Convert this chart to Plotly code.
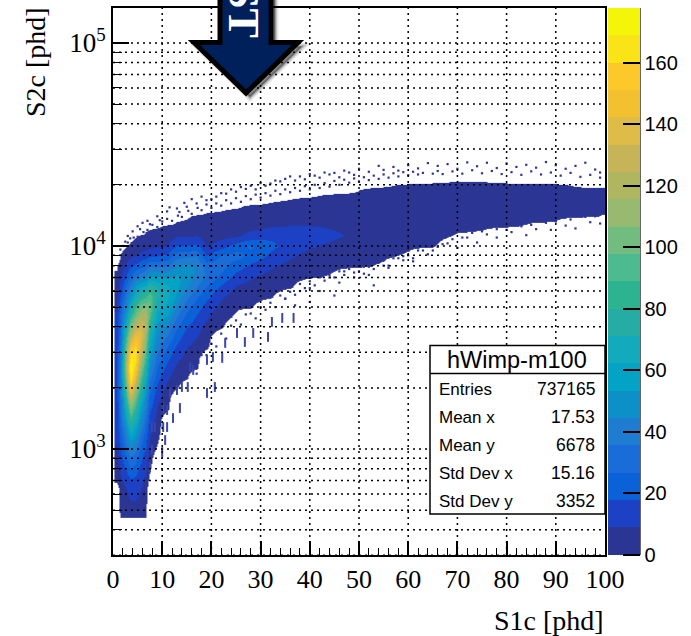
import plotly.graph_objects as go

W, H = 691, 636
L, R, T, B = 113, 605, 8, 555

S1_centres = [0.7, 1.5, 2.5, 3.5, 4.5, 5.5, 6.5, 7.5, 9, 11, 13, 15, 17, 19, 22, 25, 28, 32, 36, 40, 45, 50,
              55, 60, 65, 70, 75, 80, 85, 90, 95, 99.7]
S2_centres = [470, 500, 560, 630, 710, 800, 890, 1000, 1120, 1260, 1410, 1580, 1780, 2000, 2240, 2510, 2820, 3160,
              3550, 3980, 4470, 5010, 5620, 6310, 7080, 7940, 8910, 10000, 11200, 12600, 14100, 15800, 17800,
              20000, 22400]

# (index of first listed S2 row, counts going upward) for each S1 column.
# Small negative numbers at either end place the empty-bin edge between two rows.
column_counts = [
    (4, [3, 5, 6, 8, 10, 10, 11, 12, 12, 13, 13, 13, 13, 12, 12, 11, 10, 8, 6, 4, 1.5, -1]),
    (0, [2, 3, 4, 5, 8, 10, 14, 18, 22, 26, 30, 33, 36, 40, 42, 42, 40, 36, 32, 30, 28, 24, 18, 13, 8, 4, 1, -3]),
    (0, [4, 5, 6, 8, 12, 18, 24, 30, 38, 46, 56, 66, 78, 90, 100, 110, 105, 95, 80, 66, 52, 42, 34, 26, 18, 10, 4, -1]),
    (0, [5, 7, 9, 12, 18, 26, 34, 44, 56, 70, 86, 104, 128, 152, 170, 176, 170, 150, 125, 105, 85, 68, 52, 40, 28, 16, 8, 2, -3]),
    (0, [5, 7, 9, 12, 16, 22, 30, 38, 48, 58, 70, 84, 100, 118, 138, 155, 164, 162, 146, 125, 105, 88, 70, 54, 36, 20, 9, 4, -1]),
    (0, [3, 5, 7, 9, 12, 15, 20, 26, 32, 40, 48, 58, 70, 82, 96, 110, 124, 134, 140, 134, 120, 102, 82, 62, 42, 24, 12, 4, 1, -8]),
    (0, [1, 2, 3, 5, 7, 10, 13, 17, 21, 26, 32, 40, 48, 58, 68, 78, 90, 102, 114, 124, 122, 106, 88, 66, 46, 28, 14, 5, 1, -1.5]),
    (4, [-1.5, 1, 4, 6, 9, 12, 16, 20, 25, 31, 38, 46, 54, 62, 70, 80, 92, 102, 96, 80, 55, 36, 16, 6, 1.5, -1]),
    (7, [-1.5, 1, 3, 5, 8, 11, 15, 20, 26, 32, 38, 44, 50, 58, 66, 74, 70, 54, 34, 18, 8, 4, -1]),
    (11, [1, 3, 6, 10, 14, 20, 26, 34, 42, 52, 60, 64, 64, 52, 34, 20, 9, 4, 1, -8]),
    (13, [1, 4, 7, 11, 16, 22, 28, 36, 44, 52, 56, 56, 46, 32, 18, 8, 1, -1.5]),
    (14, [1, 3, 6, 9, 13, 18, 24, 30, 38, 46, 50, 46, 34, 18, 8, 2, -1]),
    (15, [1, 3, 6, 9, 13, 17, 22, 28, 36, 42, 44, 36, 20, 9, 4, 1, -8]),
    (17, [1, 3, 6, 10, 14, 20, 26, 35, 32, 18, 8, 4, 2, 1, -2]),
    (19, [1, 3, 6, 10, 16, 24, 30, 28, 14, 6, 3, 1, -1]),
    (20, [-1.5, 1, 4, 8, 14, 22, 30, 22, 8, 5, 3, -1]),
    (21, [1, 3, 6, 10, 16, 24, 28, 12, 6, 3, 1, -8]),
    (22, [1, 3, 6, 10, 16, 20, 16, 8, 4, 1, -2]),
    (23, [1, 3, 6, 10, 14, 16, 9, 4, 1.5, -1]),
    (24, [1, 3, 6, 10, 13, 9, 5, 4, -1]),
    (24, [-1, 1, 3, 7, 10, 8, 5, 3, 1, -8]),
    (25, [1, 3, 5, 7, 8, 7, 4, 1, -1]),
    (25, [-1, 1, 3, 6, 8, 7, 5, 4, -1]),
    (26, [-1, 1, 3, 6, 7, 6, 3, 1, -8]),
    (27, [1, 3, 5, 6, 5, 3, 1, -4]),
    (28, [-1, 2.3, 4, 5, 5, 1, -1.5]),
    (28, [-1.5, 1, 3, 4, 4, 1, -2]),
    (29, [1, 3, 3, 3, 1, -4]),
    (29, [-1, 2.3, 3, 3, 1, -8]),
    (29, [-1, 1, 2, 3, 1, -8]),
    (30, [1, 2, 4, -1]),
    (30, [-0.25, 1, 2.5, -1]),
]
EMPTY = -8

# isolated low-count bins outside the solid band, above and below it
speckle_S1 = [1.5, 2, 2.5, 3, 3.5, 4, 5, 5.5, 6, 7, 7.5, 9, 9.5, 11, 11.5, 13, 13.5, 14.5, 15, 16, 17, 18, 19, 20,
              21, 22, 23, 24, 25, 26, 27, 28, 29, 30, 31, 32, 33, 34, 35, 36, 37, 38, 39, 40, 41, 42, 43, 44, 45,
              46, 47, 48, 49, 50, 52, 54, 55, 57, 58, 60, 62, 64, 66, 68, 70, 72, 74, 76, 78, 80, 82, 84, 86, 88,
              90, 92, 94, 96, 98, 99,
              35, 37, 38, 40, 42, 44, 46, 47, 49, 51, 52, 54, 56, 57, 59, 61, 62, 64, 66, 68, 70, 72, 74, 76, 78,
              81, 84, 86, 89, 92, 94, 97, 99, 53, 45, 40]
speckle_S2 = [9600, 10000, 10500, 11200, 10900, 11800, 12500, 12100, 13000, 13300, 12800, 14000, 13400, 14800, 15500,
              15300, 14700, 16300, 15600, 17000, 16200, 17500, 16800, 17000, 17500, 18200, 18100, 19000, 18500, 19500,
              19100, 19800, 19000, 20400, 19800, 20300, 21000, 20800, 21400, 22000, 21000, 22000, 21300, 22600, 22200,
              21700, 23000, 22500, 22900, 21800, 23500, 23000, 22400, 24000, 23200, 24800, 23700, 24500, 23500, 25000,
              24100, 25600, 24800, 25300, 24000, 25800, 24700, 25700, 24200, 25500, 24500, 25100, 24300, 25900, 25000,
              24000, 24800, 25700, 23800, 23000,
              5500, 5100, 6000, 6200, 6000, 7000, 6600, 7500, 7000, 7900, 7200, 8300, 8000, 8700, 8900, 8400, 9500,
              9100, 9900, 10300, 9800, 11000, 10400, 11400, 11000, 11700, 11300, 12100, 12000, 12600, 12200, 13100,
              12900, 6400, 5700, 5300]

# bins hugging the upper edge of the band
upper_edge_S1 = [3, 4.2, 5, 6.2, 7, 8, 9, 10, 11, 12, 13.2, 14, 15.3, 16, 17.2, 18, 19, 20, 21, 22, 23, 24, 25, 26,
                 27, 28, 29, 30, 31, 32, 33, 34, 35, 36, 37, 38, 39, 40, 41, 42, 43, 44, 45, 46, 47, 48, 49, 50, 51,
                 52, 53, 54, 55, 56, 57, 58, 59, 60, 61, 62, 63, 65, 66, 67, 69, 71, 73, 75, 77, 79, 81, 83, 85, 87,
                 89, 91, 93, 95, 97, 99]
upper_edge_S2 = [10400, 11000, 11100, 11700, 12000, 12700, 12400, 13200, 13600, 13300, 14100, 13900, 14900, 14400,
                 15400, 15000, 16000, 15400, 16200, 15800, 16800, 16200, 17200, 16500, 17600, 17000, 17900, 17300,
                 18200, 17700, 18700, 18000, 19000, 18400, 19300, 18700, 19700, 19000, 20000, 19300, 20400, 19600,
                 20900, 20000, 21200, 20500, 21500, 20800, 21800, 21100, 22200, 21400, 22500, 21700, 22800, 22000,
                 23100, 22300, 23200, 22500, 22900, 22700, 23400, 22600, 23300, 22700, 23600, 22800, 23400, 22600,
                 23100, 22400, 23300, 22500, 23000, 22200, 22900, 21900, 22400, 21700]

# bins hugging the lower edge of the band
lower_edge_S1 = [15, 16, 17, 18, 19, 20, 21, 22, 23, 24, 25, 26, 27, 28, 29, 30, 31, 32, 33, 34, 35, 36, 37, 38, 39,
                 40, 41, 42, 43, 44, 45, 46, 47, 48, 49, 50, 51, 52, 53, 55, 56, 58, 59, 60, 61, 63, 65, 67, 69, 71,
                 73, 75, 78, 80, 83, 85, 88, 90, 93, 96, 98]
lower_edge_S2 = [2400, 2550, 2350, 2900, 2900, 3300, 3200, 3700, 3500, 4050, 4300, 4100, 4600, 4650, 4400, 5000, 4850,
                 5250, 5000, 5700, 5500, 5950, 5750, 6500, 6200, 6700, 6400, 7000, 6750, 7200, 7000, 7500, 7200, 7700,
                 7400, 7500, 7300, 7900, 7700, 8000, 7800, 8700, 8500, 9000, 8700, 9500, 9500, 10200, 10800, 11000,
                 11600, 11800, 12100, 12000, 12500, 12700, 13000, 13200, 13500, 13900, 14000]

# taller low-S2 bins that stand alone below the band
tail_S1 = [7.9, 8.5, 10.2, 11, 10.6, 10, 7.9, 7.5, 10.2, 12.2, 13.6, 11, 11.6, 13, 14, 15.2, 15.7, 16.3, 19.1, 20.7,
           19.1, 20.3, 22.2, 22.8, 25.2, 26.8, 28.5, 31.5, 34.4, 36.7, 32.3]
tail_S2 = [1283, 1283, 1283, 1283, 1107, 966, 990, 815, 1592, 1421, 1592, 1556, 1888, 1952, 2020, 2020, 2535, 2450,
           1888, 2020, 2746, 2841, 2810, 3330, 3727, 3366, 3727, 3564, 4422, 4422, 4227]

colour_bands = ["#2b3594", "#1c41c4", "#0b62d8", "#1a6dd8", "#1e7dd0", "#0d8fc8", "#04a3c6", "#12aabc", "#25aca4",
                "#2cb490", "#4cbc90", "#73bc80", "#98ba70", "#b0b660", "#c8b458", "#dfbc48", "#f3c030", "#fcc82a",
                "#fae418", "#f5f50a"]
BAND = 177.8 / 20

x_ticks = [0, 10, 20, 30, 40, 50, 60, 70, 80, 90, 100]
y_ticks = [1000, 10000, 100000]
y_tick_text = ["10<sup>3</sup>", "10<sup>4</sup>", "10<sup>5</sup>"]
y_minor = [300, 400, 500, 600, 700, 800, 900, 2000, 3000, 4000, 5000, 6000, 7000, 8000, 9000,
           20000, 30000, 40000, 50000, 60000, 70000, 80000, 90000]
bar_ticks = [0, 20, 40, 60, 80, 100, 120, 140, 160]

stats_names = ["Entries", "Mean x", "Mean y", "Std Dev x", "Std Dev y"]
stats_values = ["737165", "17.53", "6678", "15.16", "3352"]


def px(x):
    return (x - L) / (R - L)


def py(y):
    return (B - y) / (B - T)


n_rows = len(S2_centres)
z_cols = [[EMPTY] * s + v + [EMPTY] * (n_rows - s - len(v)) for s, v in column_counts]
# one extra, fully transparent band sits below zero so empty bins stay white
zmin = -BAND
zmax = 177.8
scale = [[0, "rgba(255,255,255,0)"], [1 / 21, "rgba(255,255,255,0)"]]
for i, c in enumerate(colour_bands):
    scale += [[(i + 1) / 21, c], [(i + 2) / 21, c]]

bar_px = (B - T) * 21 / 20

fig = go.Figure()
fig.add_trace(go.Heatmap(
    x=S1_centres, y=S2_centres, z=z_cols, transpose=True, zmin=zmin, zmax=zmax, zsmooth="best",
    colorscale=scale, hoverinfo="skip",
    colorbar=dict(x=(608 - L) / (R - L), xanchor="left", xpad=0, y=1, yanchor="top", ypad=0, lenmode="pixels",
                  len=bar_px, thickness=32, outlinewidth=0, tickvals=bar_ticks, ticks="inside", ticklen=17,
                  tickwidth=1.5, tickcolor="black", bgcolor="rgba(0,0,0,0)",
                  tickfont=dict(family="Liberation Sans", size=20, color="black"))))
for sx, sy in ((speckle_S1, speckle_S2), (upper_edge_S1, upper_edge_S2), (lower_edge_S1, lower_edge_S2)):
    fig.add_trace(go.Scatter(x=sx, y=sy, mode="markers", hoverinfo="skip", showlegend=False,
                             marker=dict(symbol="square", size=2.2, color="#2b3594", line=dict(width=0))))
fig.add_trace(go.Scatter(x=tail_S1, y=tail_S2, mode="markers", hoverinfo="skip", showlegend=False,
                         marker=dict(symbol="line-ns", size=7, color="#3a46a8",
                                     line=dict(width=2, color="#3a46a8"))))

shapes = []
GRID = dict(color="black", width=1.5, dash="2px,4px")
for v in x_ticks[1:-1]:
    shapes.append(dict(type="line", xref="x", yref="paper", x0=v, x1=v, y0=0, y1=1, line=GRID, layer="above"))
for v in y_ticks + y_minor:
    shapes.append(dict(type="line", xref="paper", yref="y", x0=0, x1=1, y0=v, y1=v, line=GRID, layer="above"))


def arrow_path(dx=0, dy=0):
    pts = [(220, -6), (271, -6), (271, 42.5), (298, 42.5), (246, 93), (194, 42.5), (220, 42.5)]
    return "M " + " L ".join(f"{px(a + dx):.5f},{py(b + dy):.5f}" for a, b in pts) + " Z"


for grow, alpha in ((7, 0.10), (4, 0.15), (2, 0.2)):
    shapes.append(dict(type="path", xref="paper", yref="paper", path=arrow_path(4, 4), layer="above",
                       fillcolor=f"rgba(0,0,0,{alpha})", line=dict(color=f"rgba(0,0,0,{alpha})", width=grow)))
shapes.append(dict(type="path", xref="paper", yref="paper", path=arrow_path(), layer="above",
                   fillcolor="#00205b", line=dict(color="black", width=5)))

shapes.append(dict(type="rect", xref="paper", yref="paper", x0=px(430), x1=px(605), y0=py(514), y1=py(345.5),
                   fillcolor="white", line=dict(color="black", width=1.5), layer="above"))
shapes.append(dict(type="line", xref="paper", yref="paper", x0=px(430), x1=px(605), y0=py(373.5), y1=py(373.5),
                   line=dict(color="black", width=1.5), layer="above"))
shapes.append(dict(type="line", xref="paper", yref="paper", x0=px(640), x1=px(640), y0=0, y1=1,
                   line=dict(color="black", width=1.2), layer="above"))

SANS = "Liberation Sans"
SERIF = "Liberation Serif"


def note(text, x, y, xanchor, size, family, **kw):
    return dict(text=text, xref="paper", yref="paper", x=px(x), y=py(y), xanchor=xanchor, yanchor="middle",
                showarrow=False, font=dict(family=family, size=size, color=kw.pop("color", "black")), **kw)


ann = [note("hWimp-m100", 517, 359.5, "center", 23.5, SANS),
       note("S1c [phd]", 606, 620, "right", 28, SERIF),
       note("S2c [phd]", 36, 62, "center", 28, SERIF, textangle=-90),
       note("<b>ST</b>", 243, 11, "center", 44, SERIF, textangle=90, color="white")]
for name, value, y in zip(stats_names, stats_values, [389, 417, 445, 473, 501]):
    ann.append(note(name, 437, y, "left", 17, SANS))
    ann.append(note(value, 597, y, "right", 17.5, SANS))

fig.update_layout(
    width=W, height=H, margin=dict(l=L, r=W - R, t=T, b=H - B, pad=0, autoexpand=False),
    paper_bgcolor="white", plot_bgcolor="white", showlegend=False, shapes=shapes, annotations=ann,
    xaxis=dict(range=[0, 100], tickvals=x_ticks, ticks="inside", ticklen=14, tickwidth=1.5, tickcolor="black",
               showgrid=False, zeroline=False, showline=True, linecolor="black", linewidth=2, mirror=True,
               tickangle=0, tickfont=dict(family=SERIF, size=26, color="black"),
               minor=dict(dtick=2, ticks="inside", ticklen=7, tickwidth=1.2, tickcolor="black", showgrid=False)),
    yaxis=dict(type="log", range=[2.478, 5.172], tickvals=y_ticks, ticktext=y_tick_text, ticks="inside", ticklen=16,
               tickwidth=1.5, tickcolor="black", showgrid=False, zeroline=False, showline=True, linecolor="black",
               linewidth=2, mirror=True, tickfont=dict(family=SERIF, size=27, color="black"),
               minor=dict(tickvals=y_minor, ticks="inside", ticklen=9, tickwidth=1.2, tickcolor="black",
                          showgrid=False)),
)
fig.write_html("out.html", config={"displayModeBar": False},
               post_script="document.body.style.margin='0';document.body.style.overflow='hidden';")
